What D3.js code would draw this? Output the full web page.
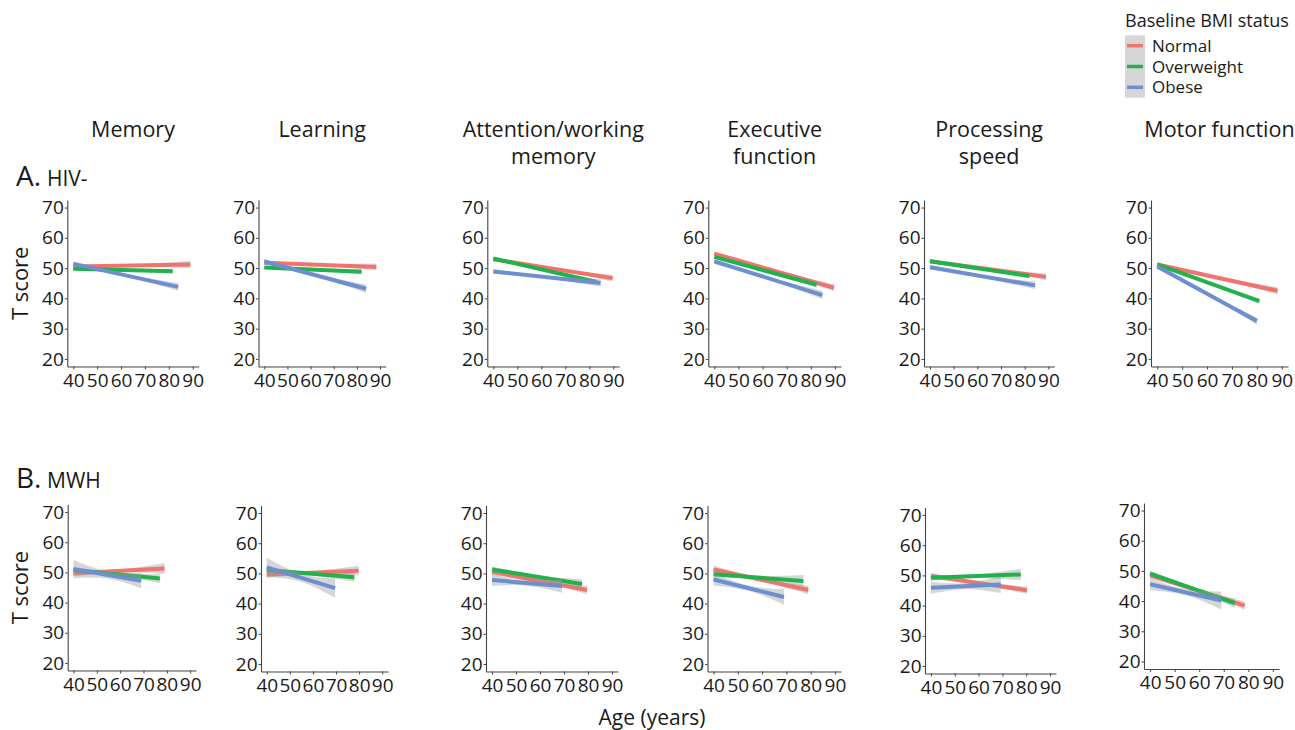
<!DOCTYPE html>
<html>
<head>
<meta charset="utf-8">
<script src="https://cdn.jsdelivr.net/npm/d3@7"></script>
<style>
  body { margin: 0; background: #fff; }
  svg { display: block; }
  text { font-family: "Open Sans", sans-serif; fill: #1a1a1a; }
</style>
</head>
<body>
<svg id="chart" width="1295" height="730"></svg>
<script>
// Cognitive domains (facet columns) and BMI groups
const domainTitles = [["Memory"], ["Learning"], ["Attention/working", "memory"],
                      ["Executive", "function"], ["Processing", "speed"], ["Motor function"]];
const groups = ["Normal", "Overweight", "Obese"];
const cohortLetters = ["A.", "B."];
const cohortNames = ["HIV-", "MWH"];
const ageTicks = [40, 50, 60, 70, 80, 90];
const scoreTicks = [20, 30, 40, 50, 60, 70];

// Fitted trajectories per domain: [ageStart, scoreStart, ageEnd, scoreEnd]
const hivNormal     = [[40, 50.5, 89, 51.2], [40, 51.8, 88.4, 50.4], [40, 52.9, 89.7, 46.7],
                       [40, 54.8, 89.6, 43.5], [40, 52.3, 89, 47.1], [40, 51.2, 88.3, 42.5]];
const hivOverweight = [[40, 49.8, 81.6, 49.0], [40, 50.2, 82, 48.8], [40, 53.2, 83, 45.4],
                       [40, 53.7, 82.4, 44.5], [40, 52.3, 82, 47.4], [40, 51.2, 81, 39.1]];
const hivObese      = [[40, 51.4, 83.9, 43.8], [40, 52.2, 84, 43.2], [40, 48.9, 84.7, 45.1],
                       [40, 52.2, 84.8, 41.1], [40, 50.3, 84.4, 44.3], [40, 50.5, 80, 32.5]];
const mwhNormal     = [[40, 49.7, 79, 51.3], [40, 49.6, 79.8, 50.9], [40, 50.5, 79.6, 44.5],
                       [40, 51.3, 79, 44.5], [40, 49.8, 80.3, 45.1], [40, 48.5, 78.5, 38.5]];
const mwhOverweight = [[40, 50.8, 77, 48.0], [40, 51.1, 77.9, 48.7], [40, 51.3, 77.5, 46.5],
                       [40, 49.7, 77, 47.5], [40, 49.2, 77.7, 50.3], [40, 49.1, 74.5, 39.3]];
const mwhObese      = [[40, 51.1, 69, 47.2], [40, 52.0, 69.6, 45.1], [40, 47.8, 69.2, 45.8],
                       [40, 48.0, 69, 42.2], [40, 45.9, 69.3, 47.0], [40, 45.6, 69, 40.2]];

// 95% CI half-widths per domain at [start, middle, end] of each trajectory
const hivNormalCI     = [[0.7, 0.3, 1.2], [0.7, 0.3, 1.1], [0.6, 0.3, 1.1], [0.6, 0.3, 1.1], [0.6, 0.3, 1.1], [0.6, 0.3, 1.2]];
const hivOverweightCI = [[0.5, 0.3, 0.8], [0.5, 0.3, 0.8], [0.5, 0.3, 0.9], [0.5, 0.3, 0.9], [0.5, 0.3, 0.8], [0.5, 0.3, 0.9]];
const hivObeseCI      = [[0.9, 0.4, 1.3], [0.9, 0.4, 1.4], [0.8, 0.4, 1.2], [0.8, 0.4, 1.4], [0.7, 0.4, 1.3], [0.8, 0.4, 1.2]];
const mwhNormalCI     = [[1.0, 0.5, 1.8], [1.0, 0.5, 1.6], [1.0, 0.5, 1.3], [1.2, 0.5, 1.4], [1.0, 0.5, 1.2], [1.0, 0.5, 1.4]];
const mwhOverweightCI = [[1.0, 0.5, 1.5], [1.0, 0.5, 1.5], [1.0, 0.5, 1.6], [1.0, 0.6, 2.0], [1.0, 0.6, 1.9], [1.0, 0.5, 1.6]];
const mwhObeseCI      = [[3.0, 1.2, 2.5], [3.2, 1.3, 3.2], [1.9, 0.9, 2.2], [2.0, 0.9, 2.6], [2.0, 1.0, 2.8], [2.0, 1.0, 3.0]];

const cohortFits = [[hivNormal, hivOverweight, hivObese], [mwhNormal, mwhOverweight, mwhObese]];
const cohortCIs  = [[hivNormalCI, hivOverweightCI, hivObeseCI], [mwhNormalCI, mwhOverweightCI, mwhObeseCI]];

// ---- layout & style ----
const groupColors = ["#F0736D", "#21B24B", "#6D8ED0"];
const ribbonFill = "#999999", ribbonOpacity = 0.4;
const ageDomain = [37.5, 92.5], scoreDomain = [17.5, 72.5];
// panel boxes [left, right, top, bottom] in pixels, per row
const panelBoxes = [
  [[67.3, 198.7, 200, 366.5], [258.5, 385.8, 200, 366.5], [487.3, 619.3, 200, 366.5],
   [708.3, 841, 200, 366.5], [924, 1054.3, 200, 366.5], [1151, 1288, 200, 366.5]],
  [[67.7, 196, 504.5, 670.5], [261, 388, 505.5, 671.5], [486, 618, 505.5, 671.5],
   [707.5, 841, 505.5, 671.5], [925, 1056, 507.5, 673.5], [1144, 1279, 503, 669]]
];
const rowLabelBaselines = [186, 488];

const svg = d3.select("#chart");

// column titles
domainTitles.forEach((lines, c) => {
  const b = panelBoxes[0][c];
  const t = svg.append("text")
    .attr("text-anchor", "middle")
    .attr("font-size", 21.5)
    .attr("x", (b[0] + b[1]) / 2)
    .attr("y", 137);
  lines.forEach((ln, i) => t.append("tspan").attr("x", (b[0] + b[1]) / 2).attr("dy", i === 0 ? 0 : 27).text(ln));
});

// legend
const legend = svg.append("g").attr("transform", "translate(1125,0)");
legend.append("text").attr("x", 0).attr("y", 27).attr("font-size", 18).text("Baseline BMI status");
groups.forEach((g, i) => {
  const cy = 45.7 + i * 20.8;
  legend.append("rect").attr("x", 0).attr("y", cy - 10.4).attr("width", 20).attr("height", 20.8)
    .attr("fill", ribbonFill).attr("fill-opacity", ribbonOpacity);
  legend.append("line").attr("x1", 2).attr("x2", 18).attr("y1", cy).attr("y2", cy)
    .attr("stroke", groupColors[i]).attr("stroke-width", 3.5);
  legend.append("text").attr("x", 27).attr("y", cy).attr("dy", "0.36em").attr("font-size", 17).text(g);
});

// rows
cohortFits.forEach((fits, r) => {
  // cohort label
  svg.append("text").attr("x", 16).attr("y", rowLabelBaselines[r]).attr("font-size", 28).text(cohortLetters[r]);
  svg.append("text").attr("x", 47).attr("y", rowLabelBaselines[r]).attr("font-size", 21).text(cohortNames[r]);

  const b0 = panelBoxes[r][0];
  svg.append("text")
    .attr("transform", `translate(28,${(b0[2] + b0[3]) / 2}) rotate(-90)`)
    .attr("text-anchor", "middle").attr("font-size", 22).text("T score");

  domainTitles.forEach((_, c) => {
    const [l, rr, t, bt] = panelBoxes[r][c];
    const x = d3.scaleLinear().domain(ageDomain).range([l, rr]);
    const y = d3.scaleLinear().domain(scoreDomain).range([bt, t]);
    const g = svg.append("g");

    // ribbons + lines, group by group
    groups.forEach((_, gi) => {
      const [a0, s0, a1, s1] = fits[gi][c];
      const [w0, wm, w1] = cohortCIs[r][gi][c];
      const am = (a0 + a1) / 2, sm = (s0 + s1) / 2;
      const band = [[a0, s0, w0], [am, sm, wm], [a1, s1, w1]];
      g.append("path")
        .datum(band)
        .attr("fill", ribbonFill).attr("fill-opacity", ribbonOpacity)
        .attr("d", d3.area().curve(d3.curveNatural)
          .x(d => x(d[0])).y0(d => y(d[1] - d[2])).y1(d => y(d[1] + d[2])));
      g.append("path")
        .datum([[a0, s0], [a1, s1]])
        .attr("fill", "none").attr("stroke", groupColors[gi]).attr("stroke-width", 4)
        .attr("d", d3.line().x(d => x(d[0])).y(d => y(d[1])));
    });

    // axes
    const ya = svg.append("g").attr("transform", `translate(${l},0)`)
      .call(d3.axisLeft(y).tickValues(scoreTicks).tickSize(2.5).tickSizeOuter(0).tickPadding(1));
    const xa = svg.append("g").attr("transform", `translate(0,${bt})`)
      .call(d3.axisBottom(x).tickValues(ageTicks).tickSize(3).tickSizeOuter(0).tickPadding(3.5));
    [ya, xa].forEach(a => {
      a.selectAll(".domain").attr("stroke", "#444").attr("stroke-width", 1.1);
      a.selectAll(".tick line").attr("stroke", "#444");
      a.selectAll(".tick text").attr("font-size", 19).attr("font-family", "Open Sans").attr("fill", "#1a1a1a");
    });
  });
});

// shared x-axis title
svg.append("text").attr("x", 652).attr("y", 725).attr("text-anchor", "middle").attr("font-size", 21).text("Age (years)");
</script>
</body>
</html>
